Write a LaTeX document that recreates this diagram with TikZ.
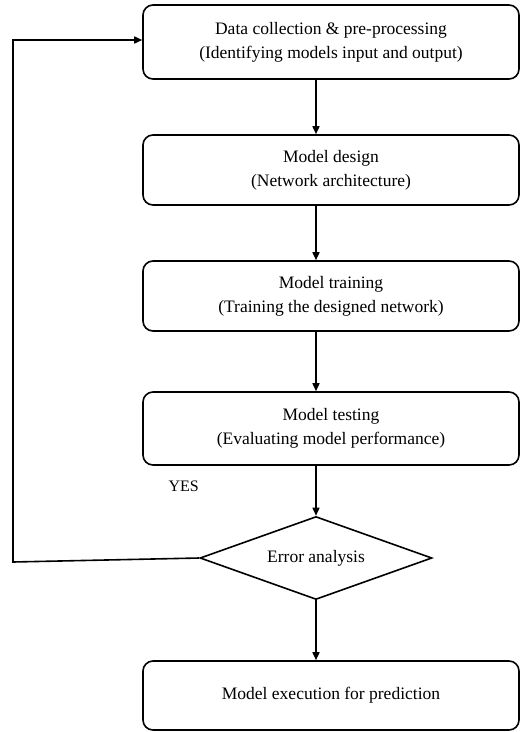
\documentclass[tikz,border=0pt]{standalone}
\usepackage{fontspec}
\setmainfont{Liberation Serif}
\usetikzlibrary{arrows.meta,shapes.geometric}
\begin{document}
\begin{tikzpicture}[x=1pt,y=-1pt,
  box/.style={draw,line width=1.6pt,rounded corners=10pt,minimum width=376pt,inner sep=0pt,align=center,font=\fontsize{17.5}{24}\selectfont},
  flow/.style={line width=1.6pt,-{Triangle[length=8pt,width=7pt]}},
  plain/.style={line width=1.6pt}]
\useasboundingbox (0,0) rectangle (521,732);
\node[box,minimum height=74pt] (b1) at (331,42) {Data collection \& pre-processing\\(Identifying models input and output)};
\node[box,minimum height=70pt] (b2) at (331,170) {Model design\\(Network architecture)};
\node[box,minimum height=70pt] (b3) at (331,296) {Model training\\(Training the designed network)};
\node[box,minimum height=73pt] (b4) at (331,428.5) {Model testing\\(Evaluating model performance)};
\node[draw,line width=1.6pt,diamond,aspect=2.8,minimum width=232pt,minimum height=83pt,inner sep=0pt,font=\fontsize{17.5}{20}\selectfont] (d) at (316,558) {Error analysis};
\node[box,minimum height=69pt] (b5) at (331,695.5) {Model execution for prediction};
\node[font=\fontsize{16}{18}\selectfont,anchor=west] (yes) at (165,486) {YES};
\coordinate (c1) at (13,562);
\coordinate (c2) at (13,40);
\draw[flow] (b1.south -| d.north) -- (b2.north -| d.north);
\draw[flow] (b2.south -| d.north) -- (b3.north -| d.north);
\draw[flow] (b3.south -| d.north) -- (b4.north -| d.north);
\draw[flow] (b4.south -| d.north) -- (d.north);
\draw[flow] (d.south) -- (b5.north -| d.south);
\draw[flow] (d.west) -- (c1) -- (c2) -- (c2 -| b1.west);
\end{tikzpicture}
\end{document}
